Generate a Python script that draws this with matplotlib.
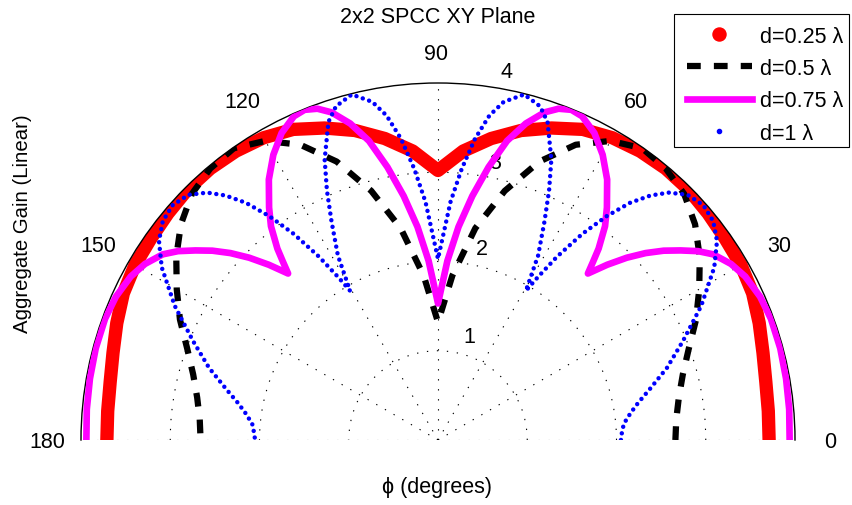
import matplotlib
matplotlib.use("Agg")
import matplotlib.pyplot as plt
from matplotlib.lines import Line2D
from matplotlib.patches import Rectangle
import numpy as np

plt.rcParams['font.family'] = ['Liberation Sans', 'DejaVu Sans']

# ---------------- data ----------------
title = "2x2 SPCC XY Plane"
xlabel = "\u03d5 (degrees)"
ylabel = "Aggregate Gain (Linear)"
series_labels = ["d=0.25 \u03bb", "d=0.5 \u03bb", "d=0.75 \u03bb", "d=1 \u03bb"]
angle_ticks = [0, 30, 60, 90, 120, 150, 180]
radial_ticks = [1, 2, 3, 4]

# d = 0.25 lambda
red_deg = [0, 5, 10, 15, 20, 25, 30, 35, 40, 45, 50, 55, 60, 65, 70, 75, 80, 85, 90,
           95, 100, 105, 110, 115, 120, 125, 130, 135, 140, 145, 150, 155, 160, 165, 170, 175, 180]
red_gain = [3.71, 3.715, 3.73, 3.77, 3.83, 3.89, 3.92, 3.93, 3.95, 3.97, 3.97, 3.95, 3.91, 3.84, 3.72, 3.59, 3.43, 3.25, 3.02,
            3.25, 3.43, 3.59, 3.72, 3.84, 3.91, 3.95, 3.97, 3.97, 3.95, 3.93, 3.92, 3.89, 3.83, 3.77, 3.73, 3.715, 3.71]

# d = 0.5 lambda
black_deg = [0, 5, 10, 15, 20, 25, 30, 35, 40, 45, 50, 55, 60, 65, 70, 75, 80, 85, 90,
             95, 100, 105, 110, 115, 120, 125, 130, 135, 140, 145, 150, 155, 160, 165, 170, 175, 180]
black_gain = [2.66, 2.68, 2.74, 2.84, 2.99, 3.19, 3.38, 3.58, 3.76, 3.90, 3.97, 3.99, 3.87, 3.65, 3.32, 2.89, 2.41, 1.85, 1.32,
              1.85, 2.41, 2.89, 3.32, 3.65, 3.87, 3.99, 3.97, 3.90, 3.76, 3.58, 3.38, 3.19, 2.99, 2.84, 2.74, 2.68, 2.66]

# d = 0.75 lambda
mag_deg = [0, 5, 10, 15, 20, 24, 28, 31, 34, 36, 38, 40, 42, 44, 46, 48, 49, 50, 52, 54, 57, 60, 63, 66, 68, 70, 72,
           74.5, 77, 79.5, 82, 84.5, 87, 90,
           93, 95.5, 98, 100.5, 103, 105.5, 108, 110, 112, 114, 117, 120, 123, 126, 128, 130, 131, 132, 134, 136,
           138, 140, 142, 144, 146, 149, 152, 156, 160, 165, 170, 175, 180]
mag_gain = [3.94, 3.95, 3.96, 3.97, 3.97, 3.95, 3.90, 3.83, 3.72, 3.60, 3.45, 3.30, 3.13, 2.94, 2.73, 2.51, 2.65, 2.80,
            3.04, 3.22, 3.48, 3.69, 3.86, 3.97, 3.99, 3.95, 3.86, 3.68, 3.44, 3.11, 2.76, 2.40, 2.01, 1.53,
            2.01, 2.40, 2.76, 3.11, 3.44, 3.68, 3.86, 3.95, 3.99, 3.97, 3.86, 3.69, 3.48, 3.22, 3.04, 2.80, 2.65, 2.51,
            2.73, 2.94, 3.13, 3.30, 3.45, 3.60, 3.72, 3.83, 3.90, 3.95, 3.97, 3.97, 3.96, 3.95, 3.94]

# d = 1 lambda
blue_deg = [0, 2, 5, 8, 10.5, 13.5, 17.5, 22, 27, 32, 35.5, 38.5, 41.5, 44.5, 47, 49, 51, 53, 55, 57,
            58.5, 59.5, 61.5, 64, 66, 68, 71, 73, 76, 79, 81, 83, 85, 87, 90,
            93, 95, 97, 99, 101, 104, 107, 109, 112, 114, 116, 118.5, 120.5, 121.5, 123, 125, 127, 129, 131, 133,
            135.5, 138.5, 141.5, 144.5, 148, 153, 158, 162.5, 166.5, 169.5, 172, 175, 178, 180]
blue_gain = [2.05, 2.06, 2.09, 2.18, 2.28, 2.44, 2.69, 2.96, 3.31, 3.65, 3.84, 3.94, 3.97, 3.92, 3.79, 3.63, 3.42, 3.14,
             2.82, 2.45, 2.14, 1.94, 2.35, 2.72, 3.06, 3.39, 3.77, 3.91, 3.99, 3.86, 3.68, 3.40, 3.05, 2.67, 2.03,
             2.67, 3.05, 3.40, 3.68, 3.86, 3.99, 3.91, 3.77, 3.39, 3.06, 2.72, 2.35, 1.94, 2.14, 2.45, 2.82, 3.14,
             3.42, 3.63, 3.79, 3.92, 3.97, 3.94, 3.84, 3.65, 3.31, 2.96, 2.69, 2.44, 2.28, 2.18, 2.09, 2.06, 2.05]

# ---------------- figure / layout ----------------
W, H = 853, 506
FS = 15.5
fig = plt.figure(figsize=(W / 100, H / 100), dpi=100)
fig.patch.set_facecolor('white')

cx, cy, R = 438, 441, 357          # centre and outer radius in pixels
# the half-disc is fitted (centred) inside a square axes box of side 2R
S = 2 * R
top = cy - R / 2 - S / 2           # square top in pixels (from the top)
ax = fig.add_axes([(cx - R) / W, (H - (top + S)) / H, S / W, S / H], projection='polar')
ax.set_thetamin(0)
ax.set_thetamax(180)
ax.set_rlim(0, 4)
ax.set_rgrids([1, 2, 3], labels=['', '', ''])
ax.set_thetagrids(angle_ticks, labels=[''] * len(angle_ticks))
ax.tick_params(axis='both', length=0)
ax.grid(True, color='k', linewidth=0.8, linestyle=(0, (1.2, 7.8)))
ax.spines['polar'].set_linewidth(1.0)
ax.spines['polar'].set_color('k')
for name in ('start', 'end', 'inner'):
    ax.spines[name].set_color('none')
    ax.spines[name].set_linewidth(0)

ax.plot(np.deg2rad(red_deg), red_gain, color='red', lw=9.6,
        solid_joinstyle='round', solid_capstyle='round', zorder=2)
ax.plot(np.deg2rad(black_deg), black_gain, color='black', lw=4.5,
        linestyle=(0, (2.2, 2.1)), dash_capstyle='butt', zorder=3)
ax.plot(np.deg2rad(mag_deg), mag_gain, color='magenta', lw=4.8,
        solid_joinstyle='round', solid_capstyle='round', zorder=4)
ax.plot(np.deg2rad(blue_deg), blue_gain, color='blue', lw=3.2,
        linestyle=(0, (0.01, 1.5)), dash_capstyle='round', zorder=5)

# ---------------- texts ----------------
def ptext(x, y, s, target=fig, fs=FS, **kw):
    kw.setdefault('ha', 'center')
    kw.setdefault('va', 'baseline')
    target.text(x / W, 1 - y / H, s, fontsize=fs, transform=fig.transFigure, **kw)

# angle labels (pixel positions of baselines)
angle_pos = [(830, 448.2), (779.5, 251.9), (635.5, 108.5), (435.8, 60.2),
             (242.5, 108.5), (98.3, 251.9), (47, 448.2)]
for a, (x, y) in zip(angle_ticks, angle_pos):
    ptext(x, y, str(a))

radial_pos = [(469.5, 343.2), (482, 255.2), (495.5, 168.7), (507, 77.7)]
for rv, (x, y) in zip(radial_ticks, radial_pos):
    ptext(x, y, str(rv), target=ax, zorder=1.6, clip_on=False)

ptext(438, 22.7, title)
ptext(437.5, 493.5, xlabel)
ptext(22.5, 224, ylabel, fs=14.7, rotation=90, va='center')

# ---------------- legend ----------------
handles = [
    Line2D([], [], color='red', marker='o', linestyle='none', markersize=9.4),
    Line2D([], [], color='black', lw=4.5, linestyle=(0, (2.2, 2.1)), dash_capstyle='butt'),
    Line2D([], [], color='magenta', lw=4.8),
    Line2D([], [], color='blue', marker='o', linestyle='none', markersize=3),
]
leg = fig.legend(handles, series_labels, loc='upper left',
                 bbox_to_anchor=(687 / W, 1 - 26.5 / H), bbox_transform=fig.transFigure,
                 fontsize=FS, frameon=False,
                 handlelength=3.0, handletextpad=0.4, labelspacing=0.53, borderpad=0,
                 borderaxespad=0)
frame = Rectangle((674 / W, 1 - 148 / H), (849 - 674) / W, (148 - 15) / H,
                  transform=fig.transFigure, facecolor='white', edgecolor='k',
                  linewidth=0.8, zorder=4)
fig.add_artist(frame)
leg.set_zorder(5)

fig.savefig("out.png", dpi=100)
